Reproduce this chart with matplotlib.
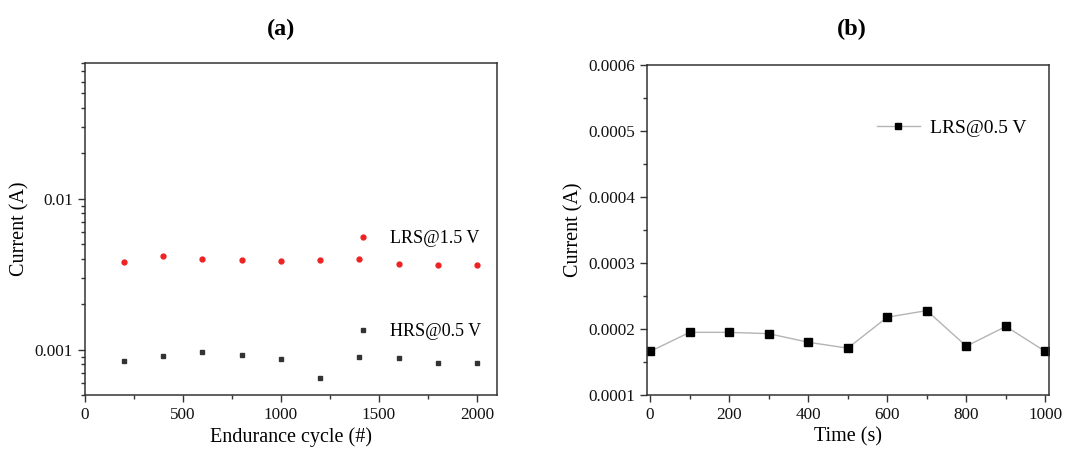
import matplotlib
matplotlib.use('Agg')
import matplotlib.pyplot as plt
from matplotlib.ticker import MultipleLocator, LogLocator, NullFormatter, FormatStrFormatter

plt.rcParams['font.family'] = ['Liberation Serif', 'DejaVu Serif']
plt.rcParams['axes.linewidth'] = 1.1

# (a) endurance data
cycles = [200, 400, 600, 800, 1000, 1200, 1400, 1600, 1800, 2000]
lrs_15 = [0.00383, 0.00417, 0.00398, 0.00394, 0.00386, 0.00394, 0.00396, 0.00369, 0.00363, 0.00363]
hrs_05 = [0.000846, 0.000903, 0.000964, 0.000921, 0.000863, 0.000653, 0.000889, 0.000876, 0.00082, 0.00082]

# (b) retention data
time_s = [0, 100, 200, 300, 400, 500, 600, 700, 800, 900, 1000]
lrs_05 = [0.000166, 0.000195, 0.000195, 0.000193, 0.00018, 0.000171, 0.000218, 0.000228, 0.000174, 0.000204, 0.000166]

spine_col = '#333333'

fig = plt.figure(figsize=(10.7, 4.51), dpi=100)
ax1 = fig.add_axes([0.0792, 0.1242, 0.385, 0.7368])
ax2 = fig.add_axes([0.605, 0.1242, 0.3757, 0.731])

for ax in (ax1, ax2):
    for s in ax.spines.values():
        s.set_color(spine_col)
    ax.tick_params(which='both', direction='out', colors=spine_col, labelcolor='#111111', labelsize=12.3)
    ax.tick_params(which='major', length=5, width=1)
    ax.tick_params(which='minor', length=3, width=1)

# panel (a)
ax1.plot(cycles, lrs_15, 'o', color='#ee2222', markersize=3.5, label='LRS@1.5 V')
ax1.plot(cycles, hrs_05, 's', color='#333333', markersize=3.5, label='HRS@0.5 V')
ax1.set_yscale('log')
ax1.set_xlim(0, 2100)
ax1.set_ylim(0.0005, 0.08)
ax1.xaxis.set_major_locator(MultipleLocator(500))
ax1.xaxis.set_minor_locator(MultipleLocator(250))
ax1.set_yticks([0.001, 0.01])
ax1.set_yticklabels(['0.001', '0.01'])
ax1.yaxis.set_minor_locator(LogLocator(base=10, subs=range(2, 10)))
ax1.yaxis.set_minor_formatter(NullFormatter())
ax1.set_xlabel('Endurance cycle (#)', fontsize=14.5, labelpad=3)
ax1.set_ylabel('Current (A)', fontsize=14.5, labelpad=4)
ax1.legend(loc='upper left', bbox_to_anchor=(0.615, 0.545), frameon=False, fontsize=13,
           handlelength=1.0, handletextpad=1.0, labelspacing=4.2, numpoints=1)
fig.text(0.263, 0.935, '(a)', fontsize=17.5, fontweight='bold', ha='center', va='center')

# panel (b)
ax2.plot(time_s, lrs_05, '-', color='#b4b4b4', linewidth=1.0, marker='s',
         markerfacecolor='black', markeredgecolor='black', markersize=5.5, label='LRS@0.5 V')
ax2.set_xlim(-7, 1010)
ax2.set_ylim(0.0001, 0.0006)
ax2.xaxis.set_major_locator(MultipleLocator(200))
ax2.xaxis.set_minor_locator(MultipleLocator(100))
ax2.yaxis.set_major_locator(MultipleLocator(0.0001))
ax2.yaxis.set_minor_locator(MultipleLocator(0.00005))
ax2.yaxis.set_major_formatter(FormatStrFormatter('%.4f'))
ax2.set_xlabel('Time (s)', fontsize=14.5, labelpad=3)
ax2.set_ylabel('Current (A)', fontsize=14.5, labelpad=4)
ax2.legend(loc='upper left', bbox_to_anchor=(0.528, 0.89), frameon=False, fontsize=14,
           handlelength=2.2, handletextpad=0.5, markerscale=0.75)
fig.text(0.796, 0.935, '(b)', fontsize=17.5, fontweight='bold', ha='center', va='center')

fig.savefig('out.png', dpi=100)
